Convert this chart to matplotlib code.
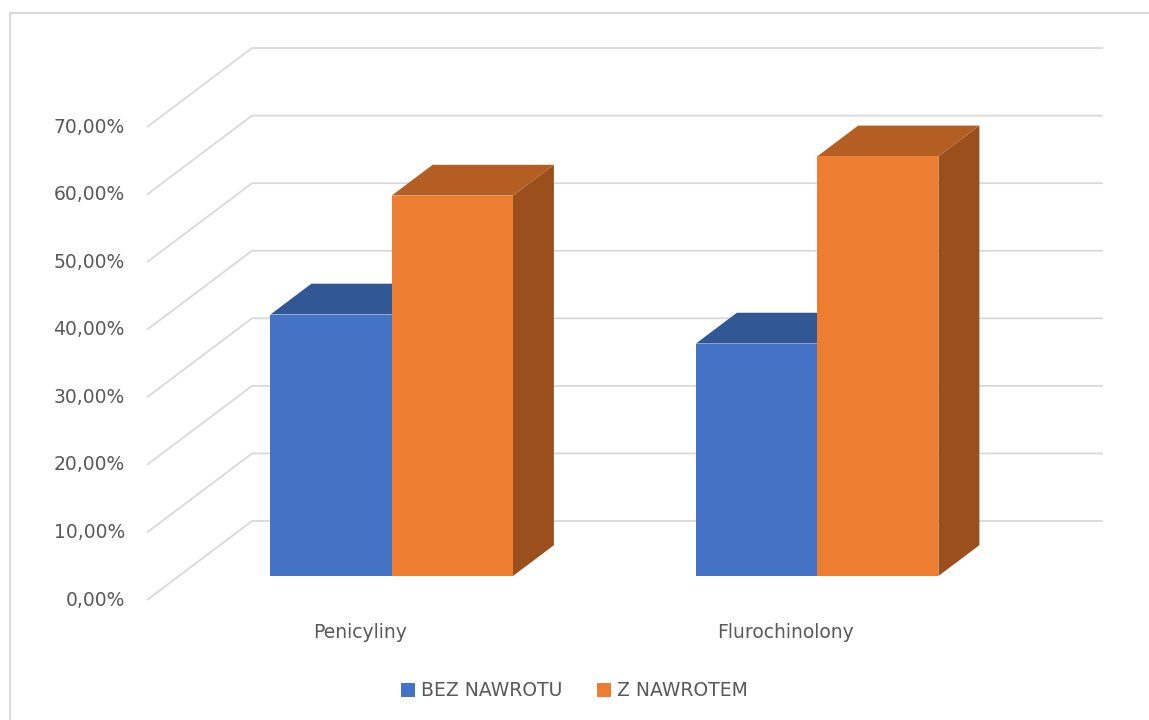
import matplotlib
matplotlib.use("Agg")
import matplotlib.pyplot as plt
from matplotlib.patches import Polygon, Patch
from matplotlib.lines import Line2D

categories = ["Penicyliny", "Flurochinolony"]
series_names = ["BEZ NAWROTU", "Z NAWROTEM"]
bez_nawrotu = [38.7, 34.4]
z_nawrotem = [56.3, 62.1]
y_ticks = [0, 10, 20, 30, 40, 50, 60, 70]
y_labels = ["0,00%", "10,00%", "20,00%", "30,00%", "40,00%", "50,00%", "60,00%", "70,00%"]

# colours: front, top, side
front_cols = ["#4472C4", "#ED7D31"]
top_cols = ["#325795", "#B55E23"]
side_cols = ["#28477E", "#9A4F1D"]
grid_col = "#D9D9D9"
text_col = "#595959"

# oblique projection: one unit of depth moves this much in data units
DEPTH_X = 0.2468
DEPTH_Y = 11.69
BAR_W = 0.285
GAP = (1 - 2 * BAR_W) / 2
D_FRONT = 0.304
D_BACK = 0.694

plt.rcParams["font.family"] = "DejaVu Sans"
fig = plt.figure(figsize=(11.49, 7.2), dpi=100)
ax = fig.add_axes([0, 0, 1, 1])
ax.set_xlim(-0.3455, 2.3549)
ax.set_ylim(-17.76, 88.80)
ax.axis("off")

n = len(categories)

# gridlines: front diagonal + back wall
for p in y_ticks:
    ax.plot([0, DEPTH_X, n + DEPTH_X], [p, p + DEPTH_Y, p + DEPTH_Y],
            color=grid_col, lw=1.3, solid_capstyle="butt", zorder=1)

for p, lab in zip(y_ticks, y_labels):
    ax.text(-0.052, p, lab, ha="right", va="center", fontsize=13.5, color=text_col)


def shift(x, y, d):
    return (x + d * DEPTH_X, y + d * DEPTH_Y)


def draw_bar(x0, h, j, z):
    x1 = x0 + BAR_W
    fl = shift(x0, 0, D_FRONT)
    fr = shift(x1, 0, D_FRONT)
    ftl = shift(x0, h, D_FRONT)
    ftr = shift(x1, h, D_FRONT)
    br = shift(x1, 0, D_BACK)
    btl = shift(x0, h, D_BACK)
    btr = shift(x1, h, D_BACK)
    ax.add_patch(Polygon([fr, br, btr, ftr], closed=True, facecolor=side_cols[j],
                         edgecolor="none", zorder=z))
    ax.add_patch(Polygon([ftl, ftr, btr, btl], closed=True, facecolor=top_cols[j],
                         edgecolor="none", zorder=z))
    ax.add_patch(Polygon([fl, fr, ftr, ftl], closed=True, facecolor=front_cols[j],
                         edgecolor="none", zorder=z + 0.5))


for i in range(n):
    for j, vals in enumerate([bez_nawrotu, z_nawrotem]):
        x0 = i + GAP + j * BAR_W
        draw_bar(x0, vals[i], j, 2 + i * 2 + j)

for i, cat in enumerate(categories):
    ax.text(i + 0.5, -4.74, cat, ha="center", va="center", fontsize=13.5, color=text_col)

handles = [Patch(facecolor=c, edgecolor="none") for c in front_cols]
fig.legend(handles, series_names, loc="center", bbox_to_anchor=(0.5, 0.0403),
           ncol=2, frameon=False, fontsize=13.5, labelcolor=text_col,
           handlelength=0.75, handleheight=0.75, handletextpad=0.32,
           columnspacing=1.87)

# chart area border (left and top visible)
fig.add_artist(Line2D([10 / 1149, 10 / 1149], [0, 1 - 13 / 720], color=grid_col, lw=1.5))
fig.add_artist(Line2D([10 / 1149, 1], [1 - 13 / 720, 1 - 13 / 720], color=grid_col, lw=1.5))

fig.savefig("out.png", dpi=100)
